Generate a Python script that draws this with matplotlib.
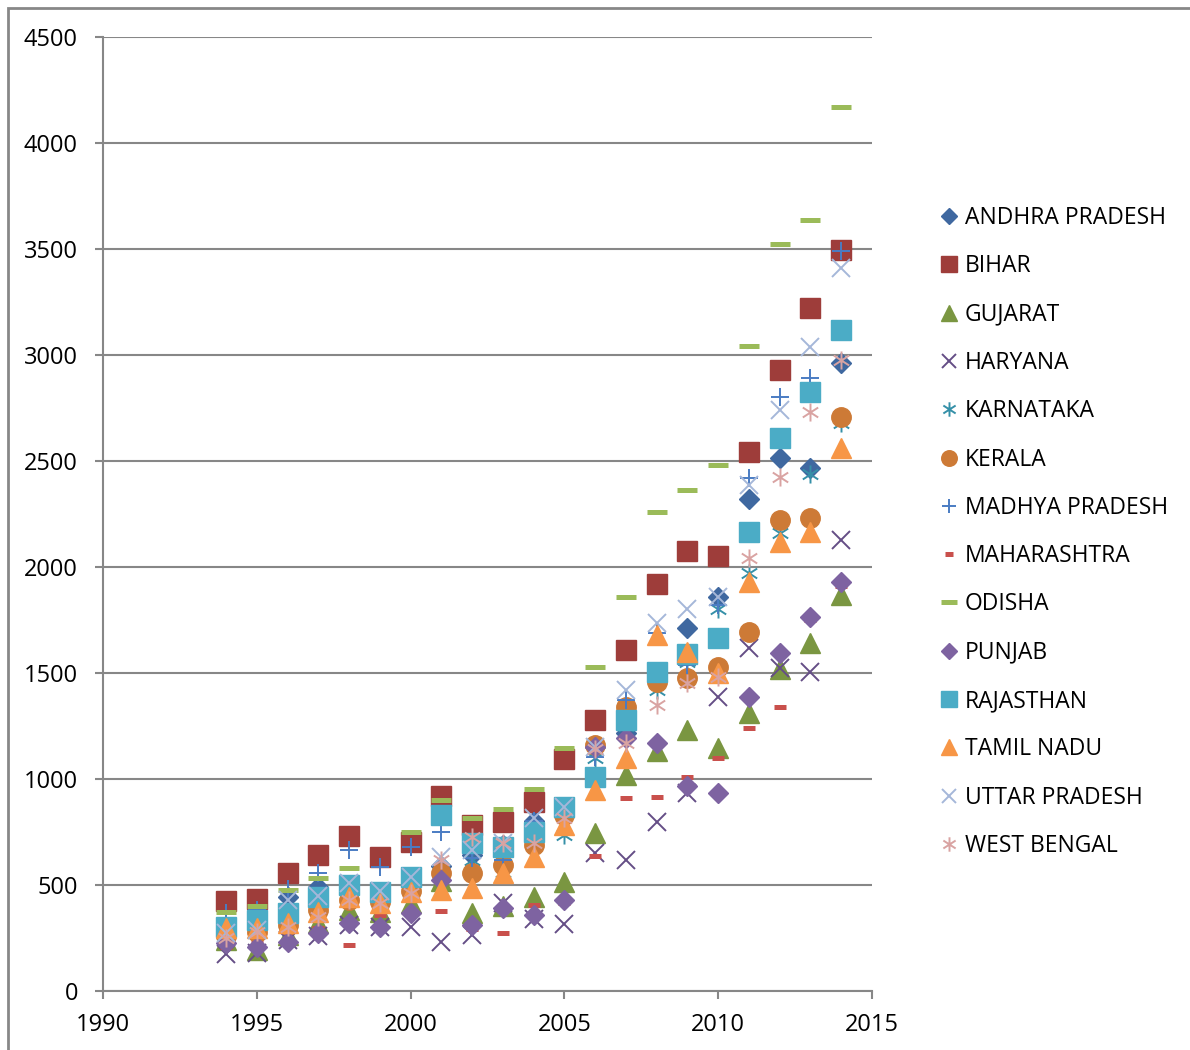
import numpy as np
import matplotlib.pyplot as plt
from matplotlib.path import Path
from matplotlib.patches import Rectangle

plt.rcParams['font.family'] = ['Open Sans', 'DejaVu Sans']

years = list(range(1994, 2015))

andhra = [280, 300, 445, 492, 470, 460, 520, 590, 642, 690, 800, 850, 1150, 1217, 1500, 1712, 1860, 2321, 2514, 2467, 2962]
bihar = [426, 434, 555, 642, 731, 634, 704, 920, 783, 799, 893, 1095, 1278, 1608, 1920, 2077, 2052, 2544, 2929, 3222, 3495]
gujarat = [240, 193, 264, 320, 382, 374, 415, 519, 368, 400, 445, 516, 745, 1019, 1130, 1231, 1146, 1311, 1520, 1641, 1868]
haryana = [175, 179, 240, 260, 311, 300, 300, 233, 264, 415, 340, 316, 651, 618, 799, 934, 1388, 1618, 1523, 1506, 2127]
karnataka = [280, 300, 330, 400, 450, 430, 480, 570, 620, 560, 720, 736, 1098, 1250, 1420, 1550, 1800, 1972, 2160, 2440, 2680]
kerala = [260, 280, 310, 380, 430, 420, 470, 556, 556, 594, 689, 830, 1160, 1341, 1459, 1476, 1530, 1695, 2222, 2231, 2709]
madhya = [368, 382, 480, 556, 665, 586, 681, 752, 627, 616, 800, 850, 1105, 1373, 1690, 1540, 1821, 2420, 2803, 2890, 3490]
maharashtra = [209, 226, 226, 297, 217, 358, 368, 379, 292, 273, 406, 415, 637, 912, 917, 1011, 1099, 1240, 1341, 1750, 1910]
odisha = [374, 402, 476, 533, 580, 470, 751, 900, 816, 858, 953, 1146, 1530, 1858, 2259, 2363, 2481, 3043, 3523, 3637, 4171]
punjab = [226, 209, 233, 273, 320, 303, 368, 524, 311, 391, 358, 429, 1150, 1193, 1171, 967, 935, 1388, 1594, 1766, 1931]
rajasthan = [303, 335, 368, 445, 500, 468, 539, 830, 698, 681, 751, 869, 1011, 1278, 1506, 1590, 1665, 2167, 2608, 2827, 3118]
tamil = [298, 297, 321, 374, 445, 415, 468, 476, 486, 556, 634, 783, 948, 1099, 1679, 1600, 1500, 1931, 2120, 2167, 2561]
uttar = [273, 288, 429, 450, 509, 470, 539, 634, 665, 698, 814, 869, 1150, 1420, 1736, 1802, 1860, 2387, 2740, 3039, 3410]
bengal = [250, 280, 303, 351, 429, 415, 462, 618, 728, 698, 698, 816, 1143, 1170, 1349, 1452, 1483, 2042, 2426, 2733, 2976]

# Excel-like asterisk: vertical bar plus an X
star = Path([(0, -1), (0, 1), (-0.85, -0.55), (0.85, 0.55), (-0.85, 0.55), (0.85, -0.55)],
            [Path.MOVETO, Path.LINETO, Path.MOVETO, Path.LINETO, Path.MOVETO, Path.LINETO])

series = [
    ("ANDHRA PRADESH", andhra, dict(marker='D', ms=10, color='#3F68A0')),
    ("BIHAR", bihar, dict(marker='s', ms=14, color='#9E3D3A')),
    ("GUJARAT", gujarat, dict(marker='^', ms=14, color='#7A9641')),
    ("HARYANA", haryana, dict(marker='x', ms=13, mew=1.4, color='#654E86')),
    ("KARNATAKA", karnataka, dict(marker=star, ms=13, mew=1.4, color='#3590A8', fillstyle='none')),
    ("KERALA", kerala, dict(marker='o', ms=14, color='#CD7A36')),
    ("MADHYA PRADESH", madhya, dict(marker='+', ms=13, mew=1.4, color='#4A7CC3')),
    ("MAHARASHTRA", maharashtra, dict(marker='_', ms=8, mew=3.6, color='#C9504C')),
    ("ODISHA", odisha, dict(marker='_', ms=15, mew=3.6, color='#9BBB59')),
    ("PUNJAB", punjab, dict(marker='D', ms=10, color='#7E63A1')),
    ("RAJASTHAN", rajasthan, dict(marker='s', ms=14, color='#4BACC6')),
    ("TAMIL NADU", tamil, dict(marker='^', ms=14, color='#F79646')),
    ("UTTAR PRADESH", uttar, dict(marker='x', ms=13, mew=1.4, color='#A5B7D9')),
    ("WEST BENGAL", bengal, dict(marker=star, ms=13, mew=1.4, color='#D9A3A2', fillstyle='none')),
]

fig = plt.figure(figsize=(11.9, 10.5), dpi=100)
ax = fig.add_axes([103/1190, 1 - 991/1050, (872 - 103)/1190, (991 - 37)/1050])

for name, vals, st in series:
    ax.plot(years, vals, linestyle='none', label=name, **st)

ax.set_xlim(1990, 2015)
ax.set_ylim(0, 4500)
ax.set_xticks(range(1990, 2016, 5))
ax.set_yticks(range(0, 4501, 500))
ax.grid(axis='y', color='#878787', linewidth=1.5)
ax.set_axisbelow(True)
for s in ['top', 'right']:
    ax.spines[s].set_visible(False)
for s in ['left', 'bottom']:
    ax.spines[s].set_color('#878787')
    ax.spines[s].set_linewidth(1.5)
ax.tick_params(axis='both', direction='out', length=6, width=1.5, color='#878787',
               labelsize=17)
ax.tick_params(axis='y', pad=12)
ax.tick_params(axis='x', pad=10)

leg = fig.legend(loc='center left', bbox_to_anchor=(929/1190, 1 - 532/1050), frameon=False,
                 fontsize=16.5, labelspacing=1.06, handlelength=0.95, handletextpad=0.2,
                 numpoints=1, borderaxespad=0)
for h in leg.legend_handles:
    h.set_markersize(h.get_markersize() * 0.8)

fig.patches.append(Rectangle((8/1190, -0.1), 1.2, 1 - 8/1050 + 0.1, transform=fig.transFigure,
                             fill=False, edgecolor='#878787', linewidth=2))

fig.savefig('out.png', dpi=100)
